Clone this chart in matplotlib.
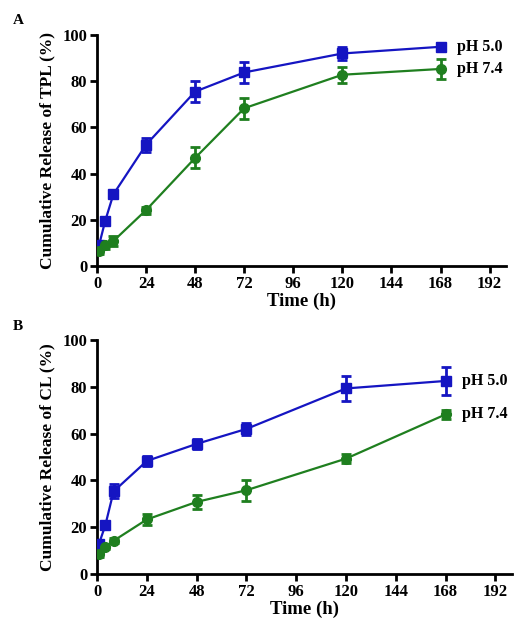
import matplotlib.pyplot as plt
import numpy as np

plt.rcParams['font.family'] = ['Liberation Serif', 'DejaVu Serif']
plt.rcParams['font.weight'] = 'bold'

time_h = [1, 4, 8, 24, 48, 72, 120, 168]

# panel A: TPL
tpl_ph50 = [9.0, 19.5, 31.0, 52.5, 75.5, 83.8, 92.0, 94.9]
tpl_ph50_err = [1.0, 1.5, 1.2, 3.0, 4.5, 4.5, 3.0, 1.0]
tpl_ph74 = [6.5, 9.0, 10.8, 24.2, 46.8, 68.3, 82.8, 85.3]
tpl_ph74_err = [1.5, 1.5, 2.0, 1.5, 4.5, 4.5, 3.5, 4.3]

# panel B: CL
cl_ph50 = [13.0, 20.8, 35.3, 48.3, 55.6, 62.0, 79.3, 82.5]
cl_ph50_err = [1.0, 1.0, 3.0, 2.0, 2.2, 2.5, 5.5, 6.0]
cl_ph74 = [8.4, 11.6, 14.2, 23.3, 30.8, 35.8, 49.3, 68.2]
cl_ph74_err = [1.0, 1.0, 1.0, 2.5, 3.0, 4.5, 2.0, 2.0]

series_names = ['pH 5.0', 'pH 7.4']
blue = '#1515c2'
green = '#1f7f1f'

fig = plt.figure(figsize=(5.3, 6.41), dpi=100)
axA = fig.add_axes([97 / 530, 1 - 266 / 641, 409 / 530, 231 / 641])
axB = fig.add_axes([97 / 530, 1 - 574 / 641, 415 / 530, 234 / 641])


def draw(ax, y50, e50, y74, e74, ylabel):
    ax.errorbar(time_h, y50, yerr=e50, color=blue, marker='s', ms=7, lw=1.6,
                elinewidth=2, capsize=3.5, capthick=2, zorder=3)
    ax.errorbar(time_h, y74, yerr=e74, color=green, marker='o', ms=7, lw=1.6,
                elinewidth=2, capsize=3.5, capthick=2, zorder=3)
    ax.set_xlim(0, 200)
    ax.set_ylim(0, 100)
    ax.set_xticks(np.arange(0, 193, 24))
    ax.set_yticks(np.arange(0, 101, 20))
    for s in ['top', 'right']:
        ax.spines[s].set_visible(False)
    for s in ['left', 'bottom']:
        ax.spines[s].set_linewidth(2)
    ax.tick_params(width=2, length=5, labelsize=12, pad=2)
    for lab in ax.get_xticklabels() + ax.get_yticklabels():
        lab.set_fontweight('bold')
    ax.set_xlabel('Time (h)', fontsize=13.5, fontweight='bold', labelpad=1)
    ax.set_ylabel(ylabel, fontsize=12.5, fontweight='bold', labelpad=5)
    ax.text(time_h[-1] + 8, y50[-1], series_names[0], fontsize=11.5,
            fontweight='bold', va='center')
    ax.text(time_h[-1] + 8, y74[-1], series_names[1], fontsize=11.5,
            fontweight='bold', va='center')


draw(axA, tpl_ph50, tpl_ph50_err, tpl_ph74, tpl_ph74_err, 'Cumulative Release of TPL (%)')
draw(axB, cl_ph50, cl_ph50_err, cl_ph74, cl_ph74_err, 'Cumulative Release of CL (%)')

fig.text(13 / 530, 1 - 20 / 641, 'A', fontsize=11, fontweight='bold', va='center')
fig.text(13 / 530, 1 - 326 / 641, 'B', fontsize=11, fontweight='bold', va='center')

fig.savefig('out.png', dpi=100)
